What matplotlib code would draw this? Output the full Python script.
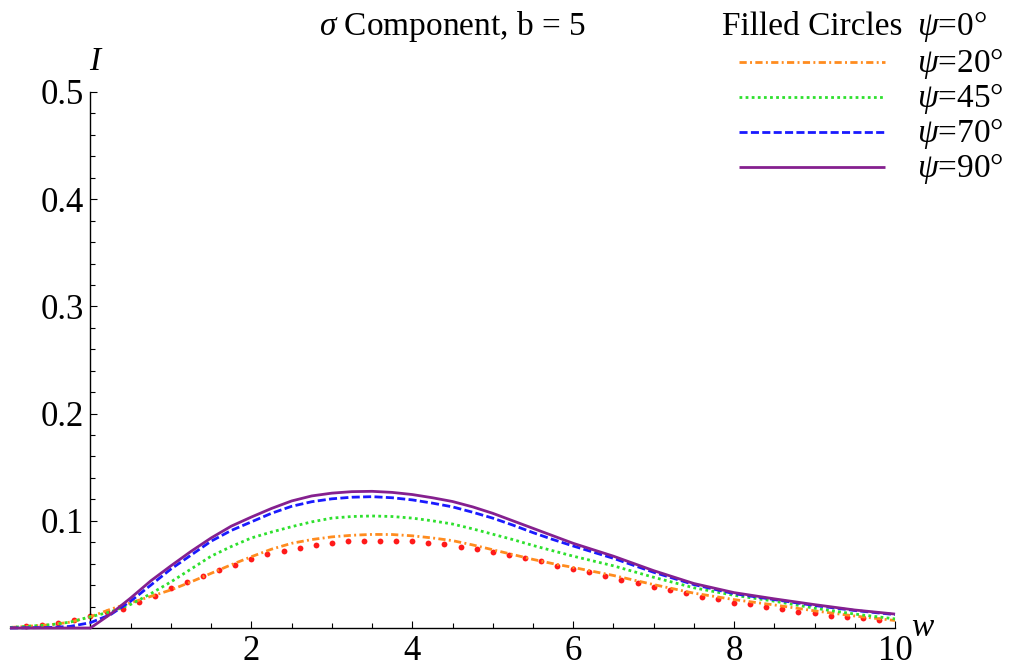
import numpy as np
import matplotlib.pyplot as plt
from matplotlib.lines import Line2D

plt.rcParams['font.family'] = ['Liberation Serif', 'DejaVu Serif']
plt.rcParams['mathtext.fontset'] = 'custom'
plt.rcParams['mathtext.rm'] = 'Liberation Serif'
plt.rcParams['mathtext.it'] = 'Liberation Serif:italic'

# sample points
w = [-1, -0.5, -0.25, 0, 0.25, 0.5, 0.75, 1.0, 1.25, 1.5, 1.75, 2.0, 2.25, 2.5,
     2.75, 3.0, 3.25, 3.5, 3.75, 4.0, 4.25, 4.5, 4.75, 5.0, 5.25, 5.5, 5.75, 6.0,
     6.5, 7.0, 7.5, 8.0, 8.5, 9.0, 9.5, 10.0]
I_20 = [0.0005, 0.003, 0.0055, 0.0105,
        0.0175, 0.0235, 0.0295, 0.0355, 0.043, 0.051, 0.059, 0.0665, 0.0735, 0.079,
        0.0825, 0.085, 0.0865, 0.0873, 0.0872, 0.086, 0.084, 0.0815, 0.0775, 0.073,
        0.0685, 0.064, 0.060, 0.0565,
        0.049, 0.0405, 0.0325, 0.0265, 0.0215, 0.016, 0.0112, 0.007]
I_45 = [0.0005, 0.003, 0.0055, 0.0105,
        0.015, 0.022, 0.032, 0.043, 0.055, 0.067, 0.076, 0.084, 0.0895, 0.0945,
        0.099, 0.1025, 0.104, 0.1045, 0.104, 0.1025, 0.100, 0.097, 0.0925, 0.0875,
        0.0825, 0.077, 0.072, 0.067,
        0.058, 0.0473, 0.0375, 0.0305, 0.025, 0.0185, 0.013, 0.0085]
I_70 = [0.0, 0.0005, 0.0015, 0.005,
        0.0125, 0.025, 0.040, 0.055, 0.068, 0.081, 0.091, 0.099, 0.107, 0.1135,
        0.1178, 0.1205, 0.122, 0.1225, 0.1215, 0.1195, 0.1165, 0.113, 0.108, 0.1025,
        0.096, 0.089, 0.0825, 0.0765,
        0.065, 0.052, 0.0405, 0.032, 0.0265, 0.021, 0.0163, 0.0125]
I_90 = [0.0, 0.0, 0.0, 0.0,
        0.013, 0.028, 0.044, 0.058, 0.0715, 0.084, 0.095, 0.1035, 0.1115, 0.1185,
        0.1232, 0.1258, 0.1272, 0.1275, 0.1265, 0.1245, 0.1215, 0.118, 0.113, 0.107,
        0.100, 0.093, 0.086, 0.079,
        0.067, 0.0535, 0.0415, 0.033, 0.0272, 0.0218, 0.0168, 0.013]

# psi = 0 (filled circles)
w_dots = [-0.8, -0.6, -0.4, -0.2, 0.0, 0.2, 0.4, 0.6, 0.8, 1.0, 1.2, 1.4, 1.6, 1.8,
          2.0, 2.2, 2.4, 2.6, 2.8, 3.0, 3.2, 3.4, 3.6, 3.8, 4.0, 4.2, 4.4, 4.6,
          4.8, 5.0, 5.2, 5.4, 5.6, 5.8, 6.0, 6.2, 6.4, 6.6, 6.8, 7.0, 7.2, 7.4,
          7.6, 7.8, 8.0, 8.2, 8.4, 8.6, 8.8, 9.0, 9.2, 9.4, 9.6, 9.8]
I_0 = [0.002, 0.003, 0.0045, 0.0075, 0.011, 0.015, 0.018, 0.024, 0.030, 0.037,
       0.043, 0.0485, 0.054, 0.0588, 0.064, 0.069, 0.0718, 0.0743, 0.0774, 0.0795,
       0.081, 0.0815, 0.0815, 0.0815, 0.0812, 0.0796, 0.078, 0.0753, 0.0737, 0.0712,
       0.068, 0.065, 0.0625, 0.058, 0.0553, 0.0525, 0.0485, 0.0448, 0.0423, 0.038,
       0.0354, 0.0323, 0.0292, 0.0268, 0.0236, 0.0221, 0.0199, 0.0174, 0.0152, 0.0137,
       0.0112, 0.0105, 0.009, 0.0075]

styles = {
    '20': dict(color='#ff8c1f', lw=2.0, dashes=(2.6, 1.2, 0.7, 1.2)),
    '45': dict(color='#2ee02e', lw=2.0, dashes=(1.0, 1.2)),
    '70': dict(color='#1a1aff', lw=2.0, dashes=(2.9, 1.2)),
    '90': dict(color='#85208f', lw=2.0),
}

W, H = 1013, 671
fig = plt.figure(figsize=(W / 100, H / 100), dpi=100)
ax = fig.add_axes([10 / W, (H - 628) / H, 885 / W, 536 / H])

ax.plot(w_dots, I_0, 'o', color='#ff1a1a', ms=4.2, mec='none', clip_on=False, zorder=2)
for key, ys in [('20', I_20), ('45', I_45), ('70', I_70), ('90', I_90)]:
    ax.plot(w, ys, solid_capstyle='butt', dash_capstyle='butt', clip_on=False,
            zorder=3, **styles[key])

ax.set_xlim(-1, 10)
ax.set_ylim(0, 0.5)
for s in ['top', 'right']:
    ax.spines[s].set_visible(False)
ax.spines['left'].set_position(('data', 0))
ax.spines['bottom'].set_position(('data', 0))
ax.spines['left'].set_linewidth(1.0)
ax.spines['bottom'].set_linewidth(1.0)

ax.set_xticks([2, 4, 6, 8, 10])
ax.set_xticklabels(['2', '4', '6', '8', '10'])
ax.set_xticks([0.5, 1, 1.5, 2.5, 3, 3.5, 4.5, 5, 5.5, 6.5, 7, 7.5, 8.5, 9, 9.5], minor=True)
ax.set_yticks([0.1, 0.2, 0.3, 0.4, 0.5])
ax.set_yticklabels(['0.1', '0.2', '0.3', '0.4', '0.5'])
ax.set_yticks([0.02, 0.04, 0.06, 0.08, 0.12, 0.14, 0.16, 0.18, 0.22, 0.24, 0.26, 0.28,
               0.32, 0.34, 0.36, 0.38, 0.42, 0.44, 0.46, 0.48], minor=True)
ax.tick_params(which='major', direction='in', length=5.2, width=0.8, labelsize=25, pad=5)
ax.tick_params(which='minor', direction='in', length=3.6, width=0.8)

ax.annotate('$I$', xy=(0, 0.5), xytext=(4, 22), textcoords='offset points',
            ha='center', va='center', fontsize=24)
ax.annotate('$w$', xy=(10, 0), xytext=(20, 0), textcoords='offset points',
            ha='center', va='center', fontsize=24)

fig.text(452 / W, 1 - 35 / H, r'$\sigma$ Component, b = 5', ha='center', va='baseline',
         fontsize=24)

# legend, drawn by hand like the original
fig.text(902 / W, 1 - 35 / H, 'Filled Circles', ha='right', va='baseline', fontsize=24)
rows = [('0', 35), ('20', 72), ('45', 107), ('70', 142), ('90', 177)]
for key, base in rows:
    fig.text(917 / W, 1 - base / H, r'$\psi$=' + key + '°', ha='left', va='baseline',
             fontsize=24)
    if key in styles:
        yl = 1 - (base - 10) / H
        fig.add_artist(Line2D([739 / W, 885 / W], [yl, yl], transform=fig.transFigure,
                              solid_capstyle='butt', dash_capstyle='butt', **styles[key]))

fig.savefig('out.png', dpi=100)
